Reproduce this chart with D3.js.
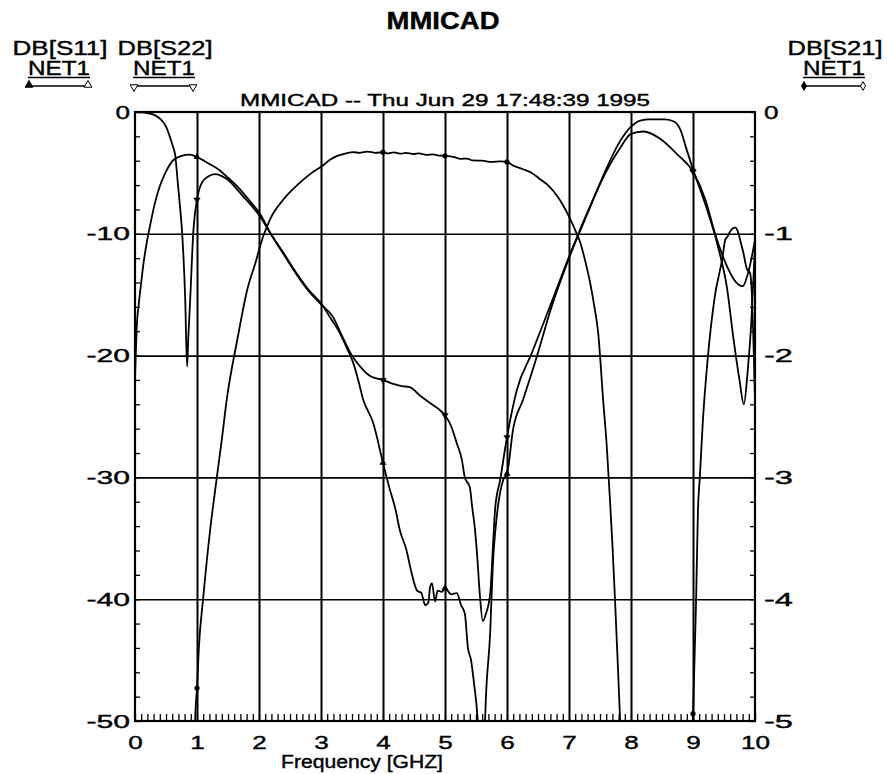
<!DOCTYPE html>
<html>
<head>
<meta charset="utf-8">
<script src="https://cdn.jsdelivr.net/npm/d3@7"></script>
<style>
  body { margin: 0; background: #fff; }
  text { font-family: "Liberation Sans", Arial, sans-serif; fill: #000; stroke: #000; stroke-width: 0.4px; }
</style>
</head>
<body>
<svg id="chart" width="887" height="774"></svg>
<script>
// ---- data (freq in GHz, S11/S22 in dB on left axis, S21 in dB on right axis)
const freqTicks = [0, 1, 2, 3, 4, 5, 6, 7, 8, 9, 10];
const leftTicks = [0, -10, -20, -30, -40, -50];
const rightTicks = [0, -1, -2, -3, -4, -5];
const markerFreqs = [1, 4, 5, 6, 9];
const legendNames = ["DB[S11]", "DB[S22]", "DB[S21]"];
const netName = "NET1";

const s11 = [[0,-22],[0.03,-17.5],[0.06,-15.8],[0.1,-14],[0.13,-12.7],[0.18,-11],[0.24,-9.4],[0.32,-7.5],
  [0.4,-6.1],[0.5,-4.9],[0.61,-4.0],[0.75,-3.6],[0.89,-3.5],[1.0,-3.7],[1.18,-4.2],[1.37,-4.8],[1.5,-5.4],
  [1.65,-6.1],[1.85,-7.3],[2.02,-8.4],[2.18,-9.9],[2.4,-11.6],[2.6,-13.2],[2.8,-14.6],[3.03,-15.9],
  [3.15,-16.9],[3.3,-18.1],[3.42,-19.4],[3.52,-20.6],[3.6,-22],[3.68,-23.6],[3.84,-25.5],[4.0,-28.8],
  [4.1,-30.8],[4.2,-32.6],[4.27,-34.3],[4.38,-36],[4.45,-37.6],[4.55,-39.3],[4.62,-39.5],[4.68,-40.5],
  [4.73,-40.3],[4.76,-39],[4.79,-38.7],[4.84,-40.2],[4.88,-39.3],[4.95,-39.4],[5.0,-39.1],[5.1,-39.6],
  [5.19,-39.5],[5.26,-40.5],[5.32,-41.2],[5.37,-44],[5.42,-45],[5.47,-47],[5.52,-49.4],[5.56,-53],
  [5.6,-56],[5.63,-53],[5.65,-49.4],[5.73,-42.6],[5.77,-37.4],[5.84,-33],[5.94,-30.2],[6.0,-29.7],
  [6.1,-26],[6.26,-23.6],[6.48,-20.1],[6.7,-16.3],[7.0,-12],[7.3,-8.3],[7.6,-4.7],[7.8,-2.6],[8.0,-1.2],
  [8.15,-0.7],[8.3,-0.6],[8.55,-0.6],[8.7,-0.8],[8.8,-1.5],[8.88,-2.8],[9.0,-4.7],[9.2,-7.6],[9.4,-11],
  [9.55,-14.5],[9.65,-18.5],[9.75,-22],[9.82,-24],[9.88,-21.4],[9.94,-17.3],[10,-11]];

const s22 = [[0,0],[0.15,-0.05],[0.29,-0.2],[0.38,-0.45],[0.45,-0.8],[0.51,-1.3],[0.56,-2],[0.61,-2.8],
  [0.65,-3.6],[0.69,-5.8],[0.73,-8],[0.76,-9.9],[0.81,-15.4],[0.84,-20.9],[0.86,-18.5],[0.89,-15.4],
  [0.94,-9.9],[1.0,-7.2],[1.08,-5.8],[1.18,-5.3],[1.29,-5.1],[1.48,-5.5],[1.74,-6.9],[2.02,-8.6],
  [2.2,-10.1],[2.4,-11.7],[2.6,-13.3],[2.8,-14.7],[3.0,-15.8],[3.19,-16.8],[3.35,-18.5],[3.5,-20],
  [3.65,-21],[3.8,-21.7],[4.0,-22],[4.15,-22.3],[4.3,-22.5],[4.44,-22.6],[4.6,-23.3],[4.76,-23.9],
  [4.9,-24.4],[5.0,-24.9],[5.1,-25.8],[5.19,-27.2],[5.27,-28.5],[5.32,-30],[5.36,-30.4],[5.4,-30.8],
  [5.44,-32.5],[5.48,-34.1],[5.52,-36.5],[5.56,-39.5],[5.61,-41.8],[5.66,-41.2],[5.73,-39.5],
  [5.77,-36],[5.81,-32.5],[5.89,-30.2],[6.0,-26.7],[6.16,-22.8],[6.4,-19.8],[6.69,-16],[7.0,-11.9],
  [7.3,-8.2],[7.6,-4.9],[7.82,-3],[8.0,-1.8],[8.2,-1.6],[8.47,-2.2],[8.75,-3.5],[9.0,-4.9],[9.2,-7.2],
  [9.35,-9.9],[9.5,-12.1],[9.7,-14],[9.8,-14.3],[9.9,-13],[10,-10.5]];

const s21 = [[0.95,-5.6],[0.97,-5.0],[1.0,-4.73],[1.03,-4.4],[1.1,-3.99],[1.21,-3.44],[1.32,-3.0],
  [1.4,-2.69],[1.48,-2.36],[1.65,-1.87],[1.81,-1.46],[1.97,-1.19],[2.0,-1.13],[2.18,-0.88],[2.39,-0.72],
  [2.66,-0.58],[2.85,-0.5],[3.03,-0.44],[3.15,-0.39],[3.26,-0.36],[3.4,-0.34],[3.52,-0.33],[3.62,-0.335],
  [3.75,-0.325],[3.88,-0.335],[4.0,-0.33],[4.08,-0.34],[4.17,-0.332],[4.3,-0.342],[4.36,-0.335],
  [4.5,-0.345],[4.58,-0.34],[4.7,-0.352],[4.8,-0.348],[4.92,-0.358],[5.03,-0.36],[5.15,-0.37],
  [5.25,-0.385],[5.35,-0.382],[5.45,-0.398],[5.6,-0.40],[5.75,-0.41],[5.9,-0.405],[6.0,-0.41],[6.1,-0.44],
  [6.26,-0.47],[6.4,-0.50],
  [6.53,-0.55],[6.68,-0.61],[6.81,-0.69],[6.92,-0.78],[7.02,-0.88],[7.1,-0.97],[7.18,-1.07],[7.26,-1.22],
  [7.34,-1.40],[7.41,-1.6],[7.47,-1.81],[7.55,-2.36],[7.61,-2.75],[7.66,-3.18],[7.70,-3.55],[7.74,-3.98],
  [7.78,-4.45],[7.82,-4.94],[7.86,-5.5],[8.4,null],
  [8.97,-5.5],[9.0,-4.94],[9.05,-4.01],[9.08,-3.27],[9.11,-3.0],[9.16,-2.53],[9.24,-2.01],[9.35,-1.52],
  [9.47,-1.21],[9.52,-1.05],[9.56,-1.02],[9.6,-0.98],[9.63,-0.96],[9.68,-0.95],[9.73,-0.99],[9.77,-1.07],
  [9.81,-1.15],[9.87,-1.29],[9.92,-1.32],[9.95,-1.5],[9.97,-1.79],[10,-2.36]];

// ---- layout
const svg = d3.select("#chart");
const mLeft = 135, mRight = 755, mTop = 112, mBottom = 721;
const charW = 14.5;

const x = d3.scaleLinear().domain([0, 10]).range([mLeft, mRight]);
const yL = d3.scaleLinear().domain([-50, 0]).range([mBottom, mTop]);
const yR = d3.scaleLinear().domain([-5, 0]).range([mBottom, mTop]);

// grid
svg.append("g")
    .attr("transform", "translate(0," + mBottom + ")")
    .call(d3.axisBottom(x).tickValues(freqTicks.slice(1, -1)).tickSize(-(mBottom - mTop)).tickFormat(""))
    .call(g => g.select(".domain").remove())
    .call(g => g.selectAll("line").attr("stroke", "#000").attr("stroke-width", 2));

svg.append("g")
    .attr("transform", "translate(" + mLeft + ",0)")
    .call(d3.axisLeft(yL).tickValues(leftTicks.slice(1, -1)).tickSize(-(mRight - mLeft)).tickFormat(""))
    .call(g => g.select(".domain").remove())
    .call(g => g.selectAll("line").attr("stroke", "#000").attr("stroke-width", 1.6));

// minor ticks (inside)
svg.append("g")
    .attr("transform", "translate(0," + mBottom + ")")
    .call(d3.axisBottom(x).tickValues(d3.range(0, 101).map(i => i / 10)).tickSize(-7).tickFormat(""))
    .call(g => g.select(".domain").remove())
    .call(g => g.selectAll("line").attr("stroke", "#000").attr("stroke-width", 1.3));

svg.append("g")
    .attr("transform", "translate(" + mLeft + ",0)")
    .call(d3.axisLeft(yL).tickValues(d3.range(0, 26).map(i => -2 * i)).tickSize(-5).tickFormat(""))
    .call(g => g.select(".domain").remove())
    .call(g => g.selectAll("line").attr("stroke", "#000").attr("stroke-width", 1.3));

svg.append("g")
    .attr("transform", "translate(" + mRight + ",0)")
    .call(d3.axisRight(yR).tickValues(d3.range(0, 26).map(i => -0.2 * i)).tickSize(-5).tickFormat(""))
    .call(g => g.select(".domain").remove())
    .call(g => g.selectAll("line").attr("stroke", "#000").attr("stroke-width", 1.3));

// frame
svg.append("rect")
    .attr("x", mLeft).attr("y", mTop)
    .attr("width", mRight - mLeft).attr("height", mBottom - mTop)
    .attr("fill", "none").attr("stroke", "#000").attr("stroke-width", 2.2);

// tick labels (plain hyphen minus, like the plot)
function styleLabels(g, anchor) {
  g.select(".domain").remove();
  g.selectAll("text")
    .attr("font-size", 19)
    .attr("text-anchor", anchor)
    .attr("lengthAdjust", "spacingAndGlyphs")
    .attr("textLength", function() { return this.textContent.length * charW; });
}

svg.append("g")
    .attr("transform", "translate(" + mLeft + ",0)")
    .call(d3.axisLeft(yL).tickValues(leftTicks).tickSize(0).tickPadding(5).tickFormat(d => String(d)))
    .call(g => styleLabels(g, "end"));

svg.append("g")
    .attr("transform", "translate(" + mRight + ",0)")
    .call(d3.axisRight(yR).tickValues(rightTicks).tickSize(0).tickPadding(9).tickFormat(d => String(d)))
    .call(g => styleLabels(g, "start"));

svg.append("g")
    .attr("transform", "translate(0," + mBottom + ")")
    .call(d3.axisBottom(x).tickValues(freqTicks).tickSize(0).tickPadding(15).tickFormat(d => String(d)))
    .call(g => styleLabels(g, "middle"));

// traces
svg.append("clipPath").attr("id", "plotClip")
  .append("rect")
    .attr("x", mLeft).attr("y", mTop)
    .attr("width", mRight - mLeft).attr("height", mBottom - mTop);

const plot = svg.append("g").attr("clip-path", "url(#plotClip)");

const lineL = d3.line()
    .x(d => x(d[0]))
    .y(d => yL(d[1]))
    .curve(d3.curveMonotoneX);

const lineR = d3.line()
    .defined(d => d[1] !== null)
    .x(d => x(d[0]))
    .y(d => yR(d[1]))
    .curve(d3.curveMonotoneX);

[s11, s22].forEach(s => {
  plot.append("path").datum(s)
      .attr("d", lineL)
      .attr("fill", "none").attr("stroke", "#000").attr("stroke-width", 1.8);
});
plot.append("path").datum(s21)
    .attr("d", lineR)
    .attr("fill", "none").attr("stroke", "#000").attr("stroke-width", 1.8);

// markers at selected frequencies, y taken from the series
const bis = d3.bisector(d => d[0]).left;
function valueAt(series, f) {
  const pts = series.filter(d => d[1] !== null);
  const i = bis(pts, f);
  if (i <= 0) return pts[0][1];
  if (i >= pts.length) return pts[pts.length - 1][1];
  const a = pts[i - 1], b = pts[i];
  return a[1] + (b[1] - a[1]) * (f - a[0]) / (b[0] - a[0]);
}

const triUp = d3.symbol(d3.symbolTriangle, 22);
markerFreqs.forEach(f => {
  const v11 = valueAt(s11, f), v22 = valueAt(s22, f), v21 = valueAt(s21, f);
  if (v11 >= -50) plot.append("path").attr("d", triUp)
      .attr("transform", "translate(" + x(f) + "," + yL(v11) + ")");
  if (v22 >= -50) plot.append("path").attr("d", triUp)
      .attr("transform", "translate(" + x(f) + "," + yL(v22) + ") rotate(180)");
  if (v21 >= -5) plot.append("circle")
      .attr("cx", x(f)).attr("cy", yR(v21)).attr("r", 2.6);
});

// titles
svg.append("text")
    .attr("x", 443).attr("y", 29)
    .attr("text-anchor", "middle")
    .attr("font-size", 23).attr("font-weight", "bold")
    .attr("textLength", 113).attr("lengthAdjust", "spacingAndGlyphs")
    .text("MMICAD");

svg.append("text")
    .attr("x", 445).attr("y", 106)
    .attr("text-anchor", "middle")
    .attr("font-size", 17)
    .attr("textLength", 410).attr("lengthAdjust", "spacingAndGlyphs")
    .text("MMICAD -- Thu Jun 29 17:48:39 1995");

svg.append("text")
    .attr("x", 362).attr("y", 768)
    .attr("text-anchor", "middle")
    .attr("font-size", 18)
    .attr("textLength", 162).attr("lengthAdjust", "spacingAndGlyphs")
    .text("Frequency [GHZ]");

// legend
const legendX = [60, 165, 835];
legendNames.forEach((name, i) => {
  const cx = legendX[i];
  const g = svg.append("g");
  g.append("text")
      .attr("x", cx).attr("y", 55)
      .attr("text-anchor", "middle").attr("font-size", 20)
      .attr("textLength", 95).attr("lengthAdjust", "spacingAndGlyphs")
      .text(name);
  g.append("text")
      .attr("x", cx - 1).attr("y", 75)
      .attr("text-anchor", "middle").attr("font-size", 20)
      .attr("textLength", 62).attr("lengthAdjust", "spacingAndGlyphs")
      .text(netName);
  g.append("line")
      .attr("x1", cx - 32).attr("x2", cx + 30).attr("y1", 77.5).attr("y2", 77.5)
      .attr("stroke", "#000").attr("stroke-width", 1.6);
  g.append("line")
      .attr("x1", cx - 31).attr("x2", cx + 28).attr("y1", 86).attr("y2", 86)
      .attr("stroke", "#000").attr("stroke-width", 1.4);
  [cx - 31, cx + 28].forEach((mx, j) => {
    if (i === 0) {
      g.append("path").attr("d", d3.symbol(d3.symbolTriangle, 26))
          .attr("transform", "translate(" + mx + ",85)")
          .attr("fill", j === 0 ? "#000" : "#fff").attr("stroke", "#000").attr("stroke-width", 1);
    } else if (i === 1) {
      g.append("path").attr("d", d3.symbol(d3.symbolTriangle, 26))
          .attr("transform", "translate(" + mx + ",87) rotate(180)")
          .attr("fill", "#fff").attr("stroke", "#000").attr("stroke-width", 1);
    } else {
      g.append("path").attr("d", d3.symbol(d3.symbolDiamond, 22))
          .attr("transform", "translate(" + mx + ",86)")
          .attr("fill", j === 0 ? "#000" : "#fff").attr("stroke", "#000").attr("stroke-width", 1);
    }
  });
});
</script>
</body>
</html>
